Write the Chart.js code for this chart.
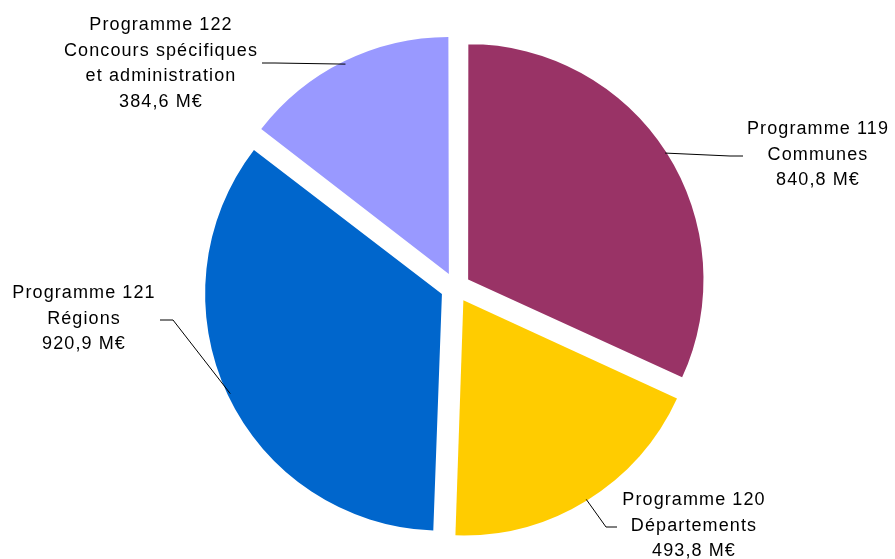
<!DOCTYPE html>
<html lang="fr">
<head>
<meta charset="utf-8">
<title>Programmes</title>
<script src="https://cdn.jsdelivr.net/npm/chart.js@4/dist/chart.umd.min.js"></script>
<style>
  html, body { margin: 0; padding: 0; background: #fff; }
  #wrap { width: 895px; height: 559px; }
</style>
</head>
<body>
<div id="wrap"><canvas id="pieChart" width="895" height="559"></canvas></div>
<script>
// Montants par programme (M€), dans l'ordre horaire depuis midi
const programmes = ["Programme 119", "Programme 120", "Programme 121", "Programme 122"];
const intitules = [["Communes"], ["Départements"], ["Régions"], ["Concours spécifiques", "et administration"]];
const montants = [840.8, 493.8, 920.9, 384.6];
const couleurs = ["#993366", "#FFCC00", "#0066CC", "#9999FF"];

// Placement des étiquettes : centre du texte, coude et fin du trait de rappel
const etiquettes = [
  { x: 818, y: 129, coude: [730, 156], fin: [743, 156] },
  { x: 694, y: 500, coude: [606, 527], fin: [617, 527] },
  { x: 84,  y: 293, coude: [173, 320], fin: [160, 320] },
  { x: 161, y: 25,  coude: [275, 63],  fin: [262, 63] }
];

function formatMontant(v) {
  return v.toFixed(1).replace(".", ",") + " M€";
}

// Etiquettes avec traits de rappel, tracées depuis le bord extérieur de chaque part
const labelsPlugin = {
  id: "pieLabels",
  afterDatasetsDraw(chart) {
    const ctx = chart.ctx;
    const meta = chart.getDatasetMeta(0);
    ctx.save();
    meta.data.forEach((arc, i) => {
      const p = arc.getProps(["x", "y", "startAngle", "endAngle", "outerRadius"], true);
      const mid = (p.startAngle + p.endAngle) / 2;
      const r = p.outerRadius + arc.options.offset / 4;
      const ex = p.x + Math.cos(mid) * r;
      const ey = p.y + Math.sin(mid) * r;
      const e = etiquettes[i];

      ctx.strokeStyle = "#000";
      ctx.lineWidth = 1;
      ctx.beginPath();
      ctx.moveTo(ex, ey);
      ctx.lineTo(e.coude[0], e.coude[1]);
      ctx.lineTo(e.fin[0], e.fin[1]);
      ctx.stroke();

      const lignes = [programmes[i], ...intitules[i], formatMontant(montants[i])];
      ctx.fillStyle = "#000";
      ctx.font = "18px 'Liberation Sans', Arial, sans-serif";
      ctx.letterSpacing = "1.1px";
      ctx.textAlign = "center";
      ctx.textBaseline = "middle";
      lignes.forEach((txt, k) => {
        ctx.fillText(txt, e.x, e.y + k * 25.6);
      });
    });
    ctx.restore();
  }
};

const ctx = document.getElementById("pieChart").getContext("2d");
new Chart(ctx, {
  type: "pie",
  data: {
    labels: programmes,
    datasets: [{
      data: montants,
      backgroundColor: couleurs,
      borderWidth: 0,
      offset: 60
    }]
  },
  options: {
    responsive: false,
    animation: false,
    radius: 234,
    layout: { padding: { left: 16, top: 16, right: 0, bottom: 0 } },
    plugins: {
      legend: { display: false },
      tooltip: { enabled: false }
    }
  },
  plugins: [labelsPlugin]
});
</script>
</body>
</html>
